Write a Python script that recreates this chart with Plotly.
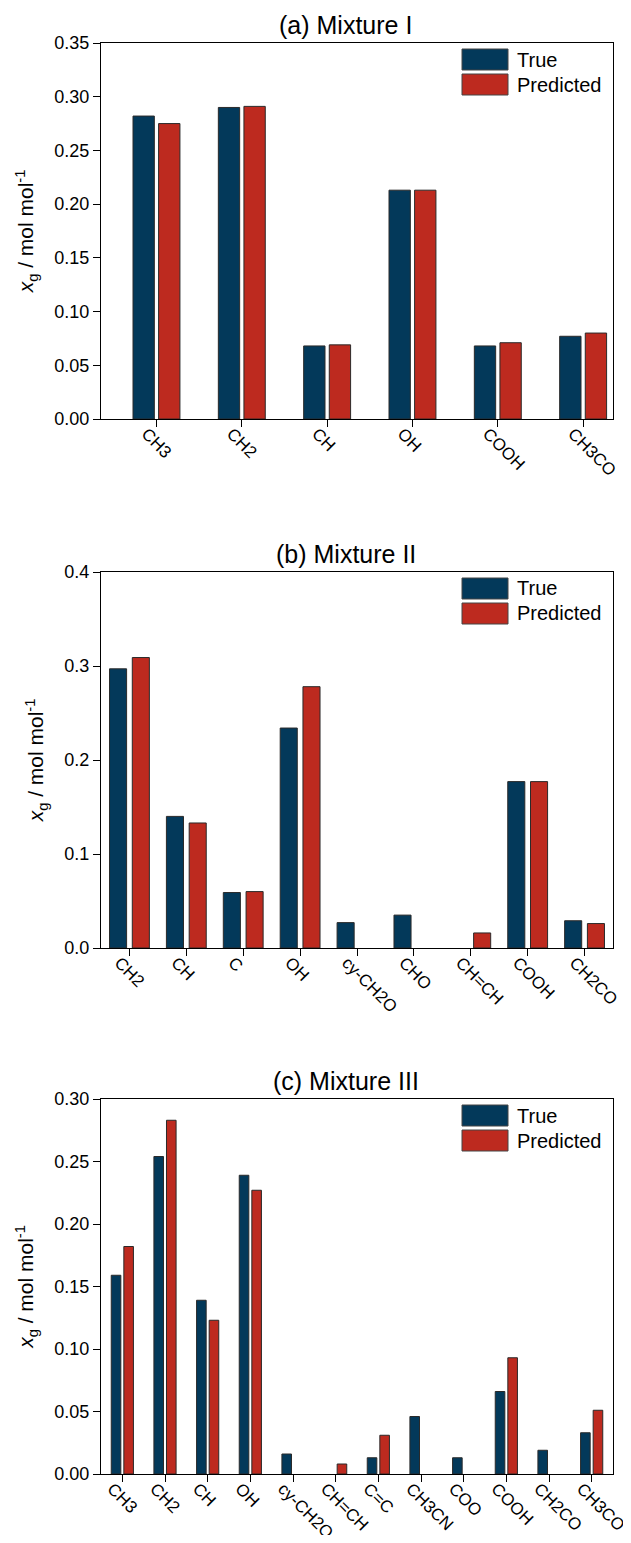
import plotly.graph_objects as go

# ---------------- data ----------------
series_names = ["True", "Predicted"]
panel_titles = ["(a) Mixture I", "(b) Mixture II", "(c) Mixture III"]

cats_a = ["CH3", "CH2", "CH", "OH", "COOH", "CH3CO"]
true_a = [0.282, 0.290, 0.068, 0.213, 0.068, 0.077]
pred_a = [0.275, 0.291, 0.069, 0.213, 0.071, 0.080]

cats_b = ["CH2", "CH", "C", "OH", "cy-CH2O", "CHO", "CH=CH", "COOH", "CH2CO"]
true_b = [0.297, 0.140, 0.059, 0.234, 0.027, 0.035, 0.0, 0.177, 0.029]
pred_b = [0.309, 0.133, 0.060, 0.278, 0.0, 0.0, 0.016, 0.177, 0.026]

cats_c = ["CH3", "CH2", "CH", "OH", "cy-CH2O", "CH=CH", "C=C", "CH3CN",
          "COO", "COOH", "CH2CO", "CH3CO"]
true_c = [0.159, 0.254, 0.139, 0.239, 0.016, 0.0, 0.013, 0.046,
          0.013, 0.066, 0.019, 0.033]
pred_c = [0.182, 0.283, 0.123, 0.227, 0.0, 0.008, 0.031, 0.0,
          0.0, 0.093, 0.0, 0.051]

y_max = [0.35, 0.4, 0.30]
y_dtick = [0.05, 0.1, 0.05]
y_fmt = [".2f", ".1f", ".2f"]

# ---------------- style ----------------
C_TRUE = "#03395A"
C_PRED = "#BD2A1F"
EDGE = "#2a2a2a"
FONT = "Arial, Liberation Sans, sans-serif"
OFF = 8                      # page body margin
W, H = 631 - 2 * OFF, 1543 - 2 * OFF
L, R = 101 - OFF, 613 - OFF  # plot-area left/right in figure pixels
panels_px = [(43, 419), (572, 948), (1099, 1474)]  # screen top, bottom
x_ranges = [[-0.65, 5.35], [-0.5, 8.5], [-0.5, 11.5]]
bar_w = [0.25, 0.30, 0.225]
off_true = [-0.275, -0.35, -0.26]
off_pred = [0.025, 0.05, 0.035]

data = [(cats_a, true_a, pred_a), (cats_b, true_b, pred_b), (cats_c, true_c, pred_c)]


def nz(vals):
    return [v if v > 0 else None for v in vals]


fig = go.Figure()
layout = dict(
    template="none",
    width=W, height=H,
    margin=dict(l=L, r=W - R, t=0, b=0, autoexpand=False),
    paper_bgcolor="white", plot_bgcolor="white",
    barmode="overlay", showlegend=False,
    font=dict(family=FONT, size=16, color="black"),
    shapes=[], annotations=[],
)

for i, (cats, tv, pv) in enumerate(data):
    n = "" if i == 0 else str(i + 1)
    xa, ya = "x" + n, "y" + n
    fig.add_trace(go.Bar(x=cats, y=nz(tv), name=series_names[0], xaxis=xa, yaxis=ya,
                         width=bar_w[i], offset=off_true[i],
                         marker=dict(color=C_TRUE, line=dict(color=EDGE, width=1))))
    fig.add_trace(go.Bar(x=cats, y=nz(pv), name=series_names[1], xaxis=xa, yaxis=ya,
                         width=bar_w[i], offset=off_pred[i],
                         marker=dict(color=C_PRED, line=dict(color=EDGE, width=1))))
    top, bot = panels_px[i][0] - OFF, panels_px[i][1] - OFF
    dom = [1 - bot / H, 1 - top / H]
    layout["xaxis" + n] = dict(
        domain=[0, 1], anchor=ya, type="category", categoryorder="array",
        categoryarray=cats, range=x_ranges[i], showgrid=False, zeroline=False,
        automargin=False,
        showline=True, linecolor="black", linewidth=1.3, mirror=True,
        ticks="outside", ticklen=7, tickwidth=1.3, tickcolor="black",
        tickangle=45, tickfont=dict(size=17, family=FONT),
        ticklabelshift=-10, ticklabelstandoff=-10,
    )
    layout["yaxis" + n] = dict(
        domain=dom, anchor=xa, range=[0, y_max[i]], dtick=y_dtick[i], tick0=0,
        tickformat=y_fmt[i], showgrid=False, zeroline=False, automargin=False,
        showline=True, linecolor="black", linewidth=1.3, mirror=True,
        ticks="outside", ticklen=7, tickwidth=1.3, tickcolor="black",
        tickfont=dict(size=18, family=FONT),
        title=dict(text="<i>x</i><sub>g</sub> / mol mol<sup>-1</sup>",
                   font=dict(size=21, family=FONT), standoff=14),
    )
    # panel title
    layout["annotations"].append(dict(
        text=panel_titles[i], xref="x" + n + " domain", yref="y" + n + " domain",
        x=0.478, y=1, yanchor="bottom", xanchor="center", yshift=2,
        showarrow=False, font=dict(size=25, family=FONT)))
    # custom legend
    ph = bot - top
    pw = R - L
    x0 = (462 - 101) / pw
    x1 = (508 - 101) / pw
    xt = (515 - 101) / pw
    for k, (nm, col) in enumerate(zip(series_names, [C_TRUE, C_PRED])):
        yt = 6 + 25 * k
        yb = yt + 21
        layout["shapes"].append(dict(
            type="rect", xref="x" + n + " domain", yref="y" + n + " domain",
            x0=x0, x1=x1, y0=1 - yb / ph, y1=1 - yt / ph,
            fillcolor=col, line=dict(color="#444", width=1)))
        layout["annotations"].append(dict(
            text=nm, xref="x" + n + " domain", yref="y" + n + " domain",
            x=xt, y=1 - (yt + yb) / 2 / ph, xanchor="left", yanchor="middle",
            showarrow=False, font=dict(size=20, family=FONT)))

fig.update_layout(**layout)
fig.write_html(
    "out.html",
    post_script="document.querySelectorAll('.main-svg, .svg-container')"
                ".forEach(function(s){s.style.overflow='visible';});",
)
